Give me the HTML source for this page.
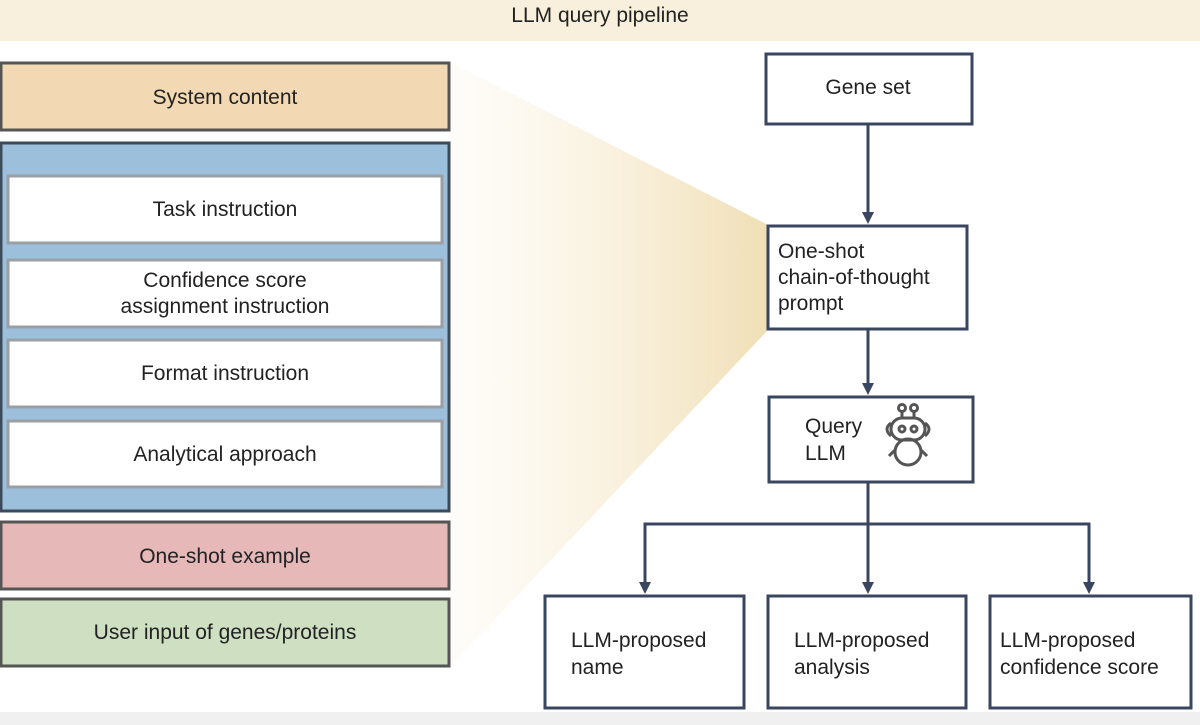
<!DOCTYPE html>
<html><head><meta charset="utf-8"><style>
html,body{margin:0;padding:0;background:#fff;}
svg{display:block;}
text{font-family:"Liberation Sans",sans-serif;fill:#222;}
</style></head><body>
<svg width="1200" height="725" viewBox="0 0 1200 725" xmlns="http://www.w3.org/2000/svg">
<defs>
<linearGradient id="fan" x1="450" y1="0" x2="768" y2="0" gradientUnits="userSpaceOnUse">
<stop offset="0" stop-color="#fbf3e0" stop-opacity="0.2"/>
<stop offset="1" stop-color="#f0dfb5"/>
</linearGradient>
</defs>
<rect x="0" y="0" width="1200" height="41" fill="#f8f0dc"/>
<text x="600" y="22" font-size="21" text-anchor="middle">LLM query pipeline</text>
<rect x="0" y="712" width="1200" height="13" fill="#f0f0f0"/>
<polygon points="450,62 768,225 768,330 450,667" fill="url(#fan)"/>
<!-- left -->
<rect x="1" y="63" width="448" height="67" fill="#f2d9b4" stroke="#555" stroke-width="3"/>
<text x="225" y="104" font-size="21" text-anchor="middle">System content</text>
<rect x="1" y="143" width="448" height="368" fill="#9cc0dc" stroke="#3d4a5a" stroke-width="3"/>
<g fill="#fff" stroke="#9a9fa6" stroke-width="3">
<rect x="8" y="176" width="434" height="67"/>
<rect x="8" y="260" width="434" height="67"/>
<rect x="8" y="340" width="434" height="67"/>
<rect x="8" y="421" width="434" height="66"/>
</g>
<text x="225" y="216" font-size="21" text-anchor="middle">Task instruction</text>
<text x="225" y="287" font-size="21" text-anchor="middle">Confidence score</text>
<text x="225" y="313" font-size="21" text-anchor="middle">assignment instruction</text>
<text x="225" y="380" font-size="21" text-anchor="middle">Format instruction</text>
<text x="225" y="461" font-size="21" text-anchor="middle">Analytical approach</text>
<rect x="1" y="522" width="448" height="67" fill="#e6b8b8" stroke="#555" stroke-width="3"/>
<text x="225" y="563" font-size="21" text-anchor="middle">One-shot example</text>
<rect x="1" y="599" width="448" height="67" fill="#cfdfc1" stroke="#555" stroke-width="3"/>
<text x="225" y="639" font-size="21" text-anchor="middle">User input of genes/proteins</text>
<!-- right -->
<g fill="none" stroke="#3a4660" stroke-width="3">
<rect x="766" y="54" width="206" height="70"/>
<rect x="768" y="226" width="199" height="103"/>
<rect x="769" y="397" width="204" height="85"/>
<rect x="545" y="596" width="199" height="112"/>
<rect x="768" y="596" width="198" height="112"/>
<rect x="990" y="596" width="201" height="112"/>
<line x1="868" y1="124" x2="868" y2="214"/>
<line x1="868" y1="329" x2="868" y2="385"/>
<line x1="868" y1="482" x2="868" y2="584"/>
<polyline points="645,584 645,524 1089,524 1089,584"/>
</g>
<g fill="#3a4660">
<polygon points="862,212 874,212 868,224"/>
<polygon points="862,383 874,383 868,395"/>
<polygon points="862,582 874,582 868,594"/>
<polygon points="639,582 651,582 645,594"/>
<polygon points="1083,582 1095,582 1089,594"/>
</g>
<text x="868" y="94" font-size="21" text-anchor="middle">Gene set</text>
<text x="778" y="258" font-size="21">One-shot</text>
<text x="778" y="284" font-size="21">chain-of-thought</text>
<text x="778" y="310" font-size="21">prompt</text>
<text x="805" y="433" font-size="21">Query</text>
<text x="805" y="460" font-size="21">LLM</text>
<!-- robot -->
<g fill="none" stroke="#555" stroke-width="3">
<circle cx="902" cy="408" r="3.5"/><circle cx="914" cy="408" r="3.5"/>
<line x1="902" y1="412" x2="902" y2="418"/><line x1="914" y1="412" x2="914" y2="418"/>
<rect x="891" y="418" width="34" height="22" rx="11"/>
<circle cx="902" cy="429" r="3"/><circle cx="914" cy="429" r="3"/>
<path d="M891,423 q-8,6 0,13 M925,423 q8,6 0,13"/>
<circle cx="908" cy="452" r="13"/>
<path d="M895,450 l-6,6 M921,450 l6,6"/>
</g>
<text x="571" y="647" font-size="21">LLM-proposed</text>
<text x="571" y="674" font-size="21">name</text>
<text x="794" y="647" font-size="21">LLM-proposed</text>
<text x="794" y="674" font-size="21">analysis</text>
<text x="1000" y="647" font-size="21">LLM-proposed</text>
<text x="1000" y="674" font-size="21">confidence score</text>
</svg>
</body></html>
